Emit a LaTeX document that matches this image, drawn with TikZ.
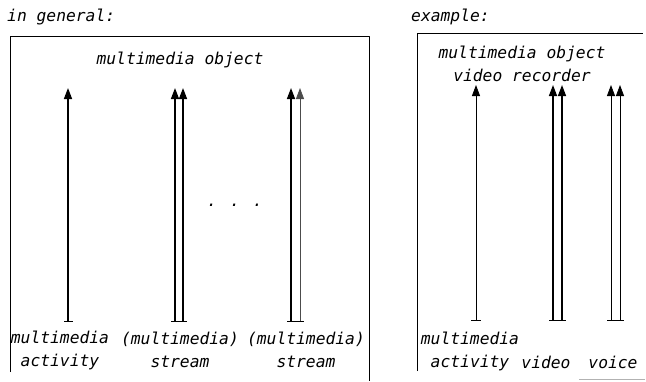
\documentclass[tikz,border=0pt]{standalone}
\usepackage{fontspec}
\newfontfamily\scanmono{DejaVu Sans Mono}
\usetikzlibrary{arrows.meta}
\tikzset{
	flow/.style={line width=1.4pt, ->},
	thinflow/.style={line width=.8pt, ->},
	label/.style={align=center, inner sep=0pt}
}
\begin{document}
\begin{tikzpicture}[x=1pt, y=-1pt, font=\scanmono\itshape\fontsize{16.3}{23}\selectfont, line join=round, >={Triangle[length=11pt,width=8pt]}]
	\useasboundingbox (0,0) rectangle (646,381);
	\path
	\foreach \n/\x in {a/68,s/175,S/183,t/291,T/300}{(\x,321) coordinate (\n0) (\x,88) coordinate (\n1)}
	\foreach \n/\x in {ra/476,v/553,V/562,o/611,O/620}{(\x,320) coordinate (\n0) (\x,85) coordinate (\n1)}
	;
	% frames
	\draw[line width=.9pt] (10,372)--(10,36)--(369,36)--(369,381);
	\draw[line width=.9pt] (417,371)--(417,33)--(643,33);
	\draw[gray!60, line width=.8pt] (579,379.5)--(645,379.5);
	% in general
	\node[anchor=west, inner sep=0pt] (gen) at (7,17) {in general:};
	\node[label] (mo) at (180,60) {multimedia object};
	\draw[flow] (a0)--(a1);
	\draw[flow] (s0)--(s1);
	\draw[flow] (S0)--(S1);
	\draw[flow] (t0)--(t1);
	\draw[thinflow, black!70] (T0)--(T1);
	\draw[line width=1pt] ([xshift=-4pt]a0)--([xshift=5pt]a0)
	([xshift=-4pt]s0)--([xshift=4pt]S0) ([xshift=-4pt]t0)--([xshift=4pt]T0);
	\node (dots) at (235,205) {. . .};
	\node[label] (act) at (60,350) {multimedia\\activity};
	\node[label] (st1) at (180,350) {(multimedia)\\stream};
	\node[label] (st2) at (306,350) {(multimedia)\\stream};
	% example
	\node[anchor=west, inner sep=0pt] (ex) at (411,17) {example:};
	\node[label] (vr) at (522,64) {multimedia object\\video recorder};
	\draw[thinflow] (ra0)--(ra1);
	\draw[flow] (v0)--(v1);
	\draw[flow] (V0)--(V1);
	\draw[thinflow] (o0)--(o1);
	\draw[thinflow] (O0)--(O1);
	\draw[line width=1pt] ([xshift=-5pt]ra0)--([xshift=5pt]ra0)
	([xshift=-4pt]v0)--([xshift=4pt]V0) ([xshift=-4pt]o0)--([xshift=4pt]O0);
	\node[label] (ract) at (470,351) {multimedia\\activity};
	\node[label] (vid) at (546,362) {video};
	\node[label] (voi) at (613,362) {voice};
\end{tikzpicture}
\end{document}
